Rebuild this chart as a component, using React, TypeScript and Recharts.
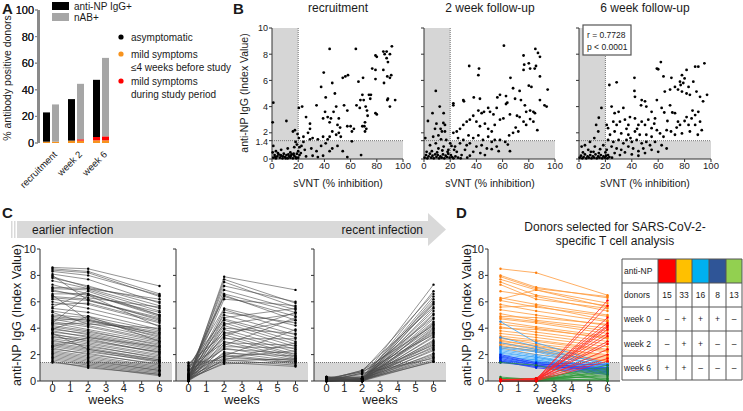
import React from "react";
import {
  BarChart,
  Bar,
  XAxis,
  YAxis,
  ScatterChart,
  Scatter,
  LineChart,
  Line,
  ReferenceArea,
  ReferenceLine,
} from "recharts";

const FONT = "'Liberation Sans', Arial, sans-serif";

// ---- panel A ----
const A_CATS = ["recruitment", "week 2", "week 6"];
const A_NP_ORANGE = [1.0, 1.8, 2.0];
const A_NP_RED = [0, 0, 2.5];
const A_NP_BLACK = [22, 31.2, 43];
const A_NAB_ORANGE = [1.0, 1.8, 2.0];
const A_NAB_RED = [0, 1.0, 3.0];
const A_NAB_GREY = [28, 41.7, 59];
const A_TICKS = [0, 20, 40, 60, 80, 100];

// ---- panel B (sVNT %, anti-NP index) ----
const B_RECRUIT: [number, number][] = [
  [0.5, 2.8], [1, 4.3], [11, 2.9], [16, 2.1], [17.5, 2.2], [20.5, 3.9], [23, 4.0], [26, 3.2],
  [29, 2.7], [29, 2.3], [34, 4.1], [37.5, 5.5], [39.5, 6.6], [44, 8.4], [41, 4.7], [40.5, 3.6],
  [42.5, 3.2], [39, 3.1], [45, 3.1], [44, 2.8], [46, 5.8], [48, 5.0], [49, 4.0], [47, 3.6],
  [51, 3.1], [50, 2.6], [52, 2.4], [54, 6.2], [55, 4.1], [56, 6.3], [58, 6.4], [57.5, 3.7],
  [57.5, 2.5], [60, 2.5], [61, 2.1], [64, 8.4], [64.5, 4.1], [62.5, 2.3], [66, 5.9], [67.5, 4.5],
  [67, 3.9], [69, 4.9], [69.5, 6.2], [70, 4.5], [69, 2.5], [70.5, 2.5], [72, 2.3], [71, 2.1],
  [72.5, 3.7], [71.5, 4.0], [74, 4.9], [75.5, 4.9], [76.5, 6.9], [79, 6.1], [79, 6.8], [79, 7.9],
  [80, 7.8], [85, 8.2], [86, 8.0], [87.5, 8.2], [87.5, 7.7], [88.5, 7.4], [90, 8.0], [91.5, 8.6],
  [94, 4.5], [85, 6.8], [85.5, 5.8], [88, 6.3], [90, 6.2], [91, 6.4], [88, 4.5], [90, 4.0],
  [88.5, 4.6], [79, 3.5], [80, 3.4], [75, 4.6], [73, 3.3], [71, 2.8], [27.5, 2.0], [24, 1.7],
  [29, 1.5], [31, 1.6], [35, 1.5], [39, 1.7], [42.5, 1.5], [44, 1.7], [46, 2.1], [49, 1.85],
  [51, 2.0], [52.5, 1.7], [22.5, 1.0], [25, 0.7], [30, 0.8], [34, 0.6], [37.5, 1.0], [41, 1.2],
  [44, 0.6], [46, 0.8], [50, 1.0], [54, 0.6], [57.5, 0.15], [61, 1.35], [68, 0.3], [26, 0.2],
  [31, 0.25], [35, 0.15], [39, 0.25], [22, 0.45], [24, 1.3], [1, 0.1], [2, 0.3], [3, 0.05],
  [4, 0.2], [5, 0.35], [6, 0.1], [7, 0.25], [8, 0.05], [9, 0.4], [10, 0.15], [11, 0.3],
  [12, 0.05], [13, 0.2], [14, 0.1], [15, 0.35], [16, 0.05], [17, 0.25], [18, 0.15], [19, 0.4],
  [20, 0.1], [21, 0.3], [0.5, 0.5], [2.5, 0.15], [4.5, 0.45], [6.5, 0.3], [8.5, 0.2], [10.5, 0.05],
  [12.5, 0.35], [14.5, 0.25], [16.5, 0.4], [18.5, 0.05], [3, 0.6], [7, 0.7], [12, 0.8], [17, 0.9],
  [19, 1.1], [1, 1.0], [14, 0.5], [20, 0.6], [21, 0.9], [18, 1.3], [20.5, 1.6], [19.5, 1.9],
];

const B_WEEK2: [number, number][] = [
  [61, 8.65], [85, 8.4], [87, 8.1], [88.5, 7.8], [76, 7.9], [80, 7.3], [76.5, 7.2], [85.5, 7.1],
  [84.5, 6.9], [81, 6.9], [76, 6.8], [34.5, 7.1], [42, 6.9], [41.5, 6.4], [9, 5.2], [12, 4.0],
  [6.5, 3.5], [3, 2.9], [9.5, 2.7], [15, 3.5], [14.8, 2.75], [16, 2.6], [8.4, 2.3], [12.7, 2.3],
  [13.7, 2.1], [11, 1.8], [16, 2.1], [7, 1.7], [22.4, 4.25], [22.4, 4.1], [30, 4.5], [30.5, 4.4],
  [38, 4.7], [42.7, 4.6], [45.8, 3.6], [49, 3.9], [50.4, 3.6], [53, 3.4], [55.5, 3.9], [58, 4.9],
  [56, 4.7], [62.6, 4.8], [63.6, 4.3], [62.6, 4.2], [68, 5.4], [69.5, 4.6], [73, 5.2], [74, 4.5],
  [77, 4.1], [78, 3.6], [81, 3.7], [83.5, 3.6], [84.7, 3.5], [88.5, 4.5], [92, 4.1], [93.6, 4.0],
  [94.4, 5.3], [88.5, 6.3], [82, 5.5], [80, 5.6], [66, 6.2], [41.5, 3.7], [44, 3.5], [37.6, 3.3],
  [35, 3.0], [32.6, 2.85], [40, 2.85], [46.5, 2.7], [42.7, 2.5], [30, 2.6], [27.5, 2.3], [25, 2.1],
  [22.4, 2.0], [49, 2.3], [51.7, 2.1], [54, 2.6], [58, 3.0], [60.6, 3.1], [65.6, 3.4], [71, 3.3],
  [73, 3.2], [76, 2.85], [78, 2.6], [81, 3.05], [83.5, 2.85], [86.5, 2.2], [72, 2.1], [68, 2.0],
  [65, 1.8], [70, 2.4], [26, 1.6], [30, 1.45], [34, 1.8], [37.6, 1.6], [41.5, 1.8], [45, 1.45],
  [49, 1.7], [51.7, 1.3], [54, 1.45], [58, 1.45], [62, 1.3], [64, 1.1], [27.5, 1.2], [32.6, 1.05],
  [35, 1.2], [40, 0.95], [44, 1.05], [48, 0.8], [51.7, 0.75], [55.5, 0.95], [23.7, 0.95], [31.3, 0.7],
  [37.6, 0.55], [43, 0.45], [46.5, 0.3], [25, 0.55], [28.7, 0.3], [35, 0.25], [57, 0.6], [65.6, 0.6],
  [21, 1.0], [23, 0.7], [1, 1.6], [9, 1.2], [13, 1.5], [17, 1.45], [20, 1.2], [4.6, 1.05],
  [11, 0.8], [15, 0.95], [18.6, 0.7], [0.5, 0.1], [1.5, 0.3], [2.5, 0.05], [3.5, 0.2], [4.5, 0.4],
  [5.5, 0.1], [6.5, 0.25], [7.5, 0.05], [8.5, 0.35], [9.5, 0.15], [10.5, 0.3], [11.5, 0.05], [12.5, 0.2],
  [13.5, 0.1], [14.5, 0.35], [15.5, 0.05], [16.5, 0.25], [17.5, 0.15], [18.5, 0.4], [19.5, 0.1], [20.5, 0.3],
  [21.5, 0.15], [22.5, 0.05], [2, 0.55], [6, 0.6], [10, 0.5], [14, 0.65], [18, 0.55], [24, 0.2],
  [26, 0.1], [28, 0.05], [33, 0.1],
];

const B_WEEK6: [number, number][] = [
  [90.4, 7.05], [88, 7.05], [62, 7.4], [59, 6.9], [60, 6.85], [42, 6.2], [64, 6.3], [70, 6.2],
  [78, 6.4], [81.5, 6.8], [80, 6.15], [76.5, 5.9], [77, 5.65], [79, 5.8], [83, 5.5], [72.7, 5.5],
  [75, 5.3], [78, 5.15], [81.5, 5.0], [84, 4.9], [86.6, 5.9], [89, 5.15], [91.7, 4.75], [69, 5.3],
  [65, 5.15], [95, 7.3], [23, 5.65], [28.5, 5.85], [17, 3.9], [15, 3.15], [13, 2.6], [14.6, 2.1],
  [24.7, 4.0], [27, 3.5], [30, 3.6], [33.6, 3.9], [42, 5.2], [42.4, 4.75], [47.5, 4.5], [50, 4.4],
  [47, 4.1], [51, 4.0], [55, 3.6], [57.6, 3.1], [59, 4.5], [62.6, 3.9], [64.6, 3.55], [69, 4.1],
  [70.7, 3.55], [72.7, 3.5], [75, 2.85], [76.5, 2.6], [81.5, 3.2], [83, 2.6], [85.3, 3.1], [88, 3.35],
  [90.4, 3.6], [91.7, 2.85], [88, 2.6], [93, 2.2], [90, 1.85], [21, 2.6], [22, 2.35], [26, 2.85],
  [28.5, 2.6], [31, 2.85], [34.8, 3.0], [37.4, 2.6], [38.6, 3.2], [42.4, 3.1], [45, 2.6], [47.5, 2.85],
  [50, 2.6], [52.5, 3.0], [55, 2.35], [59, 2.2], [61.4, 1.95], [64, 1.7], [66.4, 2.2], [69.7, 2.1],
  [72.7, 1.85], [78, 1.95], [84, 2.1], [23.5, 1.85], [27, 2.1], [32, 1.95], [37.4, 1.85], [42.4, 2.1],
  [46, 1.85], [51, 1.85], [55, 1.7], [22, 1.45], [26, 1.3], [30, 1.45], [33.6, 1.2], [36, 1.45],
  [40, 1.3], [43.7, 1.45], [47.5, 1.2], [51, 1.3], [53.8, 1.05], [57.6, 1.3], [62.6, 1.05], [24.7, 0.95],
  [28.5, 0.8], [32, 0.7], [37.4, 0.95], [41, 0.8], [45, 0.6], [48.7, 0.8], [27, 0.45], [31, 0.3],
  [34.8, 0.5], [40, 0.35], [45, 0.25], [50, 0.45], [55, 0.7], [60, 0.55], [66.4, 0.8], [21, 0.7],
  [22, 0.3], [11.6, 1.6], [8.3, 1.3], [4.5, 1.05], [12, 0.95], [16, 0.75], [18.4, 1.05], [7, 0.7],
  [11, 0.55], [2, 0.95], [0.5, 0.1], [1.5, 0.25], [2.5, 0.05], [3.5, 0.15], [4.5, 0.35], [5.5, 0.05],
  [6.5, 0.2], [7.5, 0.1], [8.5, 0.3], [9.5, 0.05], [10.5, 0.2], [11.5, 0.1], [12.5, 0.35], [13.5, 0.05],
  [14.5, 0.2], [15.5, 0.1], [16.5, 0.3], [17.5, 0.05], [18.5, 0.2], [19.5, 0.1], [20.5, 0.25], [21.5, 0.05],
  [23, 0.15], [25, 0.1], [3, 0.5], [9, 0.55], [15, 0.45], [20, 0.5], [36, 2.3], [39, 1.6],
  [44, 2.3], [57, 2.7], [67, 2.9], [74, 2.4], [80, 2.9], [86, 3.7], [94, 4.4], [97, 4.9],
];

const B_TICKS_X = [0, 20, 40, 60, 80, 100];
const B_TICKS_Y = [0, 1.4, 2, 4, 6, 8, 10];

// ---- panel C: anti-NP at weeks 0, 2, 6 ----
const WEEKS = [0, 2, 6];
const C_EARLIER: number[][] = [
  [8.6, 8.5, 7.2], [8.5, 8.3, 6.6], [8.4, 8.2, 6.4], [8.3, 8.0, 6.5], [8.1, 7.7, 5.9], [7.9, 7.1, 6.0],
  [7.8, 7.2, 5.7], [7.6, 7.0, 5.5], [7.3, 6.6, 5.0], [7.0, 6.9, 5.3], [6.8, 6.5, 5.2], [6.6, 6.6, 4.9],
  [6.4, 6.2, 4.6], [6.3, 6.1, 4.8], [6.2, 5.8, 4.4], [6.0, 5.5, 4.2], [5.8, 5.9, 4.5], [5.5, 5.2, 3.9],
  [5.3, 4.9, 3.8], [5.0, 4.8, 3.5], [4.9, 4.6, 3.4], [4.8, 4.5, 3.6], [4.7, 4.2, 3.1], [4.6, 4.7, 3.3],
  [4.5, 4.1, 3.0], [4.4, 3.9, 2.9], [4.3, 4.4, 3.2], [4.2, 3.8, 2.7], [4.1, 3.7, 2.8], [4.0, 3.5, 2.5],
  [3.9, 3.6, 2.6], [3.8, 3.3, 2.3], [3.7, 3.4, 2.4], [3.6, 3.0, 2.2], [3.5, 3.2, 2.1], [3.4, 2.9, 2.0],
  [3.3, 3.1, 2.2], [3.2, 2.8, 1.9], [3.1, 2.6, 1.8], [3.0, 2.7, 1.7], [2.9, 2.5, 1.6], [2.8, 2.4, 1.5],
  [2.7, 2.3, 1.4], [2.6, 2.2, 1.5], [2.5, 2.0, 1.3], [2.4, 2.1, 1.2], [2.3, 1.9, 1.1], [2.2, 1.8, 1.0],
  [2.1, 1.7, 0.9], [2.0, 1.6, 0.8], [1.9, 1.5, 0.8], [1.8, 1.4, 0.7], [1.7, 1.3, 0.6], [1.6, 1.2, 0.5],
  [1.5, 1.0, 0.5], [1.4, 1.1, 0.4], [6.9, 6.3, 5.6], [5.6, 6.8, 5.0], [4.4, 6.5, 4.1], [3.9, 4.9, 3.0],
  [7.1, 7.0, 6.2], [5.2, 4.3, 4.0], [2.6, 3.3, 2.6], [3.6, 2.4, 1.6], [6.5, 4.6, 3.7], [8.0, 6.1, 4.7],
];
const C_MIDDLE: number[][] = [
  [0.1, 7.9, 6.9], [0.2, 7.7, 5.9], [0.0, 7.5, 5.6], [0.3, 7.2, 6.0], [0.1, 6.9, 5.4], [0.5, 6.6, 5.2],
  [0.2, 6.5, 4.6], [0.8, 6.4, 4.9], [0.1, 6.2, 5.7], [1.0, 5.5, 4.2], [0.3, 5.4, 3.8], [0.0, 5.2, 4.4],
  [0.6, 5.0, 3.5], [0.2, 4.8, 5.5], [1.2, 4.7, 3.3], [0.4, 4.6, 3.0], [0.1, 4.4, 2.8], [0.9, 4.3, 5.1],
  [0.2, 4.2, 2.6], [0.0, 4.0, 3.6], [0.7, 3.9, 2.4], [0.3, 3.7, 2.2], [1.3, 3.6, 4.6], [0.1, 3.5, 2.0],
  [0.5, 3.3, 1.9], [0.2, 3.2, 3.2], [0.0, 3.0, 1.8], [1.1, 2.9, 2.7], [0.4, 2.8, 1.7], [0.1, 2.6, 2.5],
  [0.2, 2.5, 1.6], [0.8, 2.4, 2.1], [0.0, 2.2, 1.5], [0.3, 2.1, 1.9], [0.1, 2.0, 1.4], [0.6, 1.9, 1.3],
  [0.2, 1.8, 2.3], [0.0, 1.7, 1.6], [1.4, 1.6, 1.2], [0.4, 1.5, 1.7], [0.1, 1.4, 1.1], [0.2, 1.3, 1.5],
  [0.9, 1.9, 3.9], [0.3, 2.7, 4.8], [0.1, 1.6, 2.9], [0.5, 3.4, 5.2],
];
const C_RECENT: number[][] = [
  [0.3, 0.2, 7.3], [0.1, 0.1, 6.8], [0.2, 0.7, 6.6], [0.0, 0.1, 6.4], [0.1, 0.0, 6.2], [0.2, 0.3, 6.0],
  [0.0, 0.1, 5.8], [0.1, 0.8, 5.6], [0.3, 0.0, 5.5], [0.0, 0.2, 5.3], [0.1, 0.1, 5.1], [0.2, 0.0, 5.0],
  [0.0, 0.6, 4.8], [0.1, 0.1, 4.7], [0.2, 0.2, 4.5], [0.0, 0.0, 4.4], [0.1, 0.1, 4.3], [0.3, 0.3, 4.1],
  [0.0, 0.0, 4.0], [0.1, 0.1, 3.9], [0.2, 0.0, 3.8], [0.0, 0.2, 3.7], [0.1, 0.7, 3.5], [0.0, 0.0, 3.4],
  [0.2, 0.1, 3.3], [0.1, 0.0, 3.1], [0.0, 0.2, 3.0], [0.1, 0.1, 2.9], [0.3, 0.0, 2.8], [0.0, 0.1, 2.6],
  [0.1, 0.3, 2.5], [0.2, 0.0, 2.4], [0.0, 0.1, 2.3], [0.1, 0.0, 2.1], [0.0, 0.2, 2.0], [0.2, 0.1, 1.9],
  [0.1, 0.0, 1.8], [0.0, 0.6, 1.7], [0.1, 0.1, 1.6], [0.2, 0.0, 1.5], [0.0, 0.1, 1.45], [0.1, 0.8, 4.2],
  [0.0, 0.0, 5.9], [0.2, 0.1, 3.6], [0.1, 0.5, 2.7],
];

// ---- panel D: selected donors ----
const D_ORANGE: number[][] = [
  [8.5, 8.2, 6.5], [8.0, 7.1, 6.3], [7.9, 7.0, 6.4], [7.7, 6.9, 5.9], [7.5, 6.5, 5.7], [7.3, 6.2, 5.5],
  [6.8, 6.4, 5.3], [6.3, 5.8, 5.0], [6.2, 6.9, 5.6], [6.1, 5.6, 4.9], [5.8, 5.3, 4.5], [5.6, 5.7, 4.6],
  [5.4, 5.0, 4.2], [5.1, 4.6, 4.0], [4.9, 4.8, 4.3], [4.8, 4.5, 3.8], [4.7, 4.4, 3.6], [4.5, 4.1, 3.4],
  [4.3, 4.0, 3.2], [4.1, 3.7, 3.0], [4.0, 3.9, 3.3], [3.8, 3.5, 2.8], [3.6, 3.3, 2.6], [3.4, 3.1, 2.4],
  [3.3, 2.8, 2.2], [3.2, 3.0, 2.3], [3.1, 2.6, 2.0], [3.0, 2.7, 1.9], [2.9, 2.5, 1.8], [2.8, 2.4, 1.7],
  [2.7, 2.2, 1.6], [2.6, 2.3, 1.5], [2.5, 2.0, 1.5],
];
const D_LIGHTBLUE: number[][] = [
  [4.5, 2.9, 1.3], [3.3, 2.6, 1.2], [2.9, 2.4, 1.3], [2.6, 2.3, 1.1], [2.5, 2.2, 1.0], [2.4, 2.0, 1.2],
  [2.3, 1.9, 0.9], [2.2, 1.8, 1.0], [2.1, 1.8, 0.8], [2.0, 1.7, 0.9], [1.9, 1.6, 0.7], [1.8, 1.6, 0.8],
  [1.7, 1.5, 0.6], [1.6, 1.5, 0.7], [1.5, 1.4, 0.5], [1.45, 1.4, 0.6],
];
const D_DARKBLUE: number[][] = [
  [2.0, 1.4, 1.2], [1.9, 1.3, 1.0], [1.8, 1.3, 0.9], [1.7, 1.2, 0.8], [1.6, 1.2, 0.7], [1.5, 1.1, 0.6],
  [1.5, 1.0, 0.5], [1.4, 1.1, 0.9],
];
const D_GREEN: number[][] = [
  [0.2, 0.1, 1.2], [0.1, 0.2, 1.0], [0.3, 0.1, 0.9], [0.1, 0.0, 0.8], [0.0, 0.1, 0.7], [0.2, 0.1, 0.6],
  [0.1, 0.0, 0.5], [0.0, 0.1, 0.4], [0.1, 0.2, 0.3], [0.0, 0.0, 0.2], [0.1, 0.1, 0.1], [0.0, 0.0, 0.05],
  [1.4, 1.2, 0.0],
];
const D_RED: number[][] = [
  [0.1, 0.1, 6.1], [0.0, 0.1, 5.7], [0.1, 0.0, 4.8], [0.0, 0.2, 4.4], [0.1, 0.1, 4.2], [0.0, 0.0, 4.1],
  [0.1, 0.1, 3.9], [0.0, 0.2, 3.6], [0.1, 0.0, 3.4], [0.0, 0.1, 3.0], [0.1, 0.1, 2.8], [0.0, 0.0, 2.4],
  [0.1, 0.2, 2.0], [0.0, 0.1, 1.7], [0.1, 0.0, 1.5],
];

// table in D
const T_ROWS = ["anti-NP", "donors", "week 0", "week 2", "week 6"];
const T_COLORS = ["#ff0000", "#ffc000", "#00b0f0", "#2f5597", "#92d050"];
const T_DONORS = ["15", "33", "16", "8", "13"];
const T_WEEK0 = ["–", "+", "+", "+", "–"];
const T_WEEK2 = ["–", "+", "+", "–", "–"];
const T_WEEK6 = ["+", "+", "–", "–", "–"];

const GREY = "#d6d6d6";
const AX = "#333";
const AXA = "#8a8a8a";
const tickStyle = { fontSize: 9.5, fill: "#222", fontFamily: FONT };

// panel A plot box (matches the bar chart margins below)
const A_TOP = 10;
const A_BOTTOM = 143;

const toPts = (arr: [number, number][]) => arr.map(([x, y]) => ({ x, y }));
const toSeries = (row: number[]) => WEEKS.map((w, i) => ({ w, v: row[i] }));

const AngledTick = (props: any) => {
  const { x, y, payload } = props;
  const tx = x + 5;
  const ty = y + 2;
  return (
    <text
      x={tx}
      y={ty}
      transform={`rotate(-45 ${tx} ${ty})`}
      textAnchor="end"
      fontSize={9.5}
      fontFamily={FONT}
      fill="#222"
      dy={3}
    >
      {payload.value}
    </text>
  );
};

const BYTick = (props: any) => {
  const { x, y, payload, show } = props;
  if (!show) return null;
  const v = payload.value;
  const nudge = v === 1.4 ? 1.5 : v === 2 ? -1.5 : 0;
  return (
    <text x={x} y={y + nudge} dy={3.3} textAnchor="end" fontSize={9} fontFamily={FONT} fill="#222">
      {v}
    </text>
  );
};

const dotShape = (p: any) => <circle cx={p.cx} cy={p.cy} r={1.4} fill="#000" />;

function PanelA() {
  const data = A_CATS.map((c, i) => ({
    name: c,
    npO: A_NP_ORANGE[i],
    npR: A_NP_RED[i],
    npB: A_NP_BLACK[i],
    nabO: A_NAB_ORANGE[i],
    nabR: A_NAB_RED[i],
    nabG: A_NAB_GREY[i],
  }));
  return (
    <div style={{ position: "absolute", left: 0, top: 0 }}>
      <BarChart
        width={118}
        height={192}
        data={data}
        margin={{ top: A_TOP, right: 5, left: 0, bottom: 0 }}
        barSize={7}
        barGap={2}
      >
        <XAxis dataKey="name" axisLine={false} tickLine={false} height={192 - A_BOTTOM} interval={0} tick={<AngledTick />} />
        <YAxis
          type="number"
          domain={[0, 100]}
          ticks={A_TICKS}
          interval={0}
          width={38}
          axisLine={{ stroke: AXA, strokeWidth: 2 }}
          tickLine={{ stroke: AXA }}
          tickSize={3}
          tickMargin={1}
          tick={{ ...tickStyle, fontSize: 11 }}
        />
        <Bar dataKey="npO" stackId="np" fill="#f7931e" isAnimationActive={false} />
        <Bar dataKey="npR" stackId="np" fill="#ff0000" isAnimationActive={false} />
        <Bar dataKey="npB" stackId="np" fill="#000000" isAnimationActive={false} />
        <Bar dataKey="nabO" stackId="nab" fill="#f7931e" isAnimationActive={false} />
        <Bar dataKey="nabR" stackId="nab" fill="#ff0000" isAnimationActive={false} />
        <Bar dataKey="nabG" stackId="nab" fill="#a6a6a6" isAnimationActive={false} />
      </BarChart>
    </div>
  );
}

function ScatterPanel({ left, width, yWidth, pts, labels }: any) {
  return (
    <div style={{ position: "absolute", left, top: 0 }}>
      <ScatterChart width={width} height={195} margin={{ top: 28, right: 12, left: 0, bottom: 0 }}>
        <XAxis
          type="number"
          dataKey="x"
          domain={[0, 100]}
          ticks={B_TICKS_X}
          interval={0}
          height={36}
          axisLine={{ stroke: AX }}
          tickLine={{ stroke: AX }}
          tickSize={3}
          tickMargin={0}
          tick={tickStyle}
        />
        <YAxis
          type="number"
          dataKey="y"
          domain={[0, 10]}
          ticks={B_TICKS_Y}
          interval={0}
          width={yWidth}
          axisLine={{ stroke: AX }}
          tickLine={{ stroke: AX }}
          tickSize={3}
          tickMargin={1}
          tick={<BYTick show={labels} />}
        />
        <ReferenceArea x1={0} x2={20} y1={0} y2={10} fill={GREY} fillOpacity={1} stroke="none" />
        <ReferenceArea x1={0} x2={100} y1={0} y2={1.4} fill={GREY} fillOpacity={1} stroke="none" />
        <ReferenceLine x={20} stroke="#555" strokeDasharray="1 1" strokeWidth={0.8} />
        <ReferenceLine y={1.4} stroke="#555" strokeDasharray="1 1" strokeWidth={0.8} />
        <Scatter data={toPts(pts)} shape={dotShape} isAnimationActive={false} />
      </ScatterChart>
    </div>
  );
}

function LinePanel({ left, yWidth, width, groups, labels }: any) {
  return (
    <div style={{ position: "absolute", left, top: 240 }}>
      <LineChart width={width} height={171} margin={{ top: 9, right: 4, left: 0, bottom: 0 }}>
        <XAxis
          type="number"
          dataKey="w"
          domain={[-0.7, 6.7]}
          ticks={[0, 1, 2, 3, 4, 5, 6]}
          interval={0}
          allowDataOverflow
          height={30}
          axisLine={{ stroke: AX }}
          tickLine={{ stroke: AX }}
          tickSize={3}
          tickMargin={0}
          tick={{ ...tickStyle, fontSize: 11 }}
        />
        <YAxis
          type="number"
          domain={[0, 10]}
          ticks={[0, 2, 4, 6, 8, 10]}
          interval={0}
          width={yWidth}
          axisLine={{ stroke: AX }}
          tickLine={{ stroke: AX }}
          tickSize={3}
          tickMargin={1}
          tick={{ ...tickStyle, fontSize: 11 }}
          tickFormatter={(v: number) => (labels ? String(v) : "")}
        />
        <ReferenceArea y1={0} y2={1.4} fill={GREY} fillOpacity={1} stroke="none" />
        <ReferenceLine y={1.4} stroke="#555" strokeDasharray="1 1" strokeWidth={0.8} />
        {groups.map((g: any, gi: number) =>
          g.rows.map((row: number[], i: number) => (
            <Line
              key={`${gi}-${i}`}
              data={toSeries(row)}
              dataKey="v"
              stroke={g.stroke}
              strokeWidth={g.width}
              dot={{ r: 1.2, fill: g.dot, stroke: "none" }}
              isAnimationActive={false}
            />
          ))
        )}
      </LineChart>
    </div>
  );
}

function Overlay() {
  const ty = [259, 283, 307, 331, 356, 380];
  const tx = [622, 658, 676, 692, 709, 726, 742];
  const rowsVals = [null, T_DONORS, T_WEEK0, T_WEEK2, T_WEEK6];
  const t = { fontFamily: FONT, fill: "#1a1a1a" };
  // percent axis of panel A, same 0-100 range as the bar chart's plot box
  const aY = (v: number) => A_BOTTOM - (v / 100) * (A_BOTTOM - A_TOP);
  return (
    <svg width={743} height={411} style={{ position: "absolute", left: 0, top: 0, pointerEvents: "none" }}>
      {/* panel letters */}
      <text x={2} y={14} fontSize={15} fontWeight="bold" {...t}>A</text>
      <text x={233} y={14} fontSize={15} fontWeight="bold" {...t}>B</text>
      <text x={2} y={218} fontSize={15} fontWeight="bold" {...t}>C</text>
      <text x={456} y={218} fontSize={15} fontWeight="bold" {...t}>D</text>

      {/* A percent axis */}
      <line x1={39} x2={39} y1={aY(100)} y2={aY(0)} stroke={AXA} strokeWidth={2} />
      {A_TICKS.map((v) => (
        <g key={`at${v}`}>
          <line x1={35} x2={38} y1={aY(v)} y2={aY(v)} stroke={AXA} />
          <text x={34} y={aY(v) + 4} textAnchor="end" fontSize={11} {...t}>{v}</text>
        </g>
      ))}

      {/* A legend */}
      <rect x={52} y={2} width={17} height={8} fill="#000" />
      <rect x={52} y={13} width={17} height={8} fill="#a6a6a6" />
      <text x={74} y={10} fontSize={10} {...t}>anti-NP IgG+</text>
      <text x={74} y={21} fontSize={10} {...t}>nAB+</text>
      <circle cx={121} cy={37} r={2.6} fill="#000" />
      <text x={131} y={40.5} fontSize={10} {...t}>asymptomatic</text>
      <circle cx={121} cy={54} r={2.6} fill="#f7931e" />
      <text x={131} y={57.5} fontSize={10} {...t}>mild symptoms</text>
      <text x={131} y={70.5} fontSize={10} {...t}>≤4 weeks before study</text>
      <circle cx={121} cy={81} r={2.6} fill="#ff0000" />
      <text x={131} y={85} fontSize={10} {...t}>mild symptoms</text>
      <text x={131} y={98} fontSize={10} {...t}>during study period</text>
      <text transform="translate(11,78) rotate(-90)" textAnchor="middle" fontSize={10.5} {...t}>
        % antibody positive donors
      </text>

      {/* B titles and labels */}
      <text x={338} y={12} textAnchor="middle" fontSize={12} {...t}>recruitment</text>
      <text x={490} y={12} textAnchor="middle" fontSize={12} {...t}>2 week follow-up</text>
      <text x={645} y={12} textAnchor="middle" fontSize={12} {...t}>6 week follow-up</text>
      <text transform="translate(248,93) rotate(-90)" textAnchor="middle" fontSize={10.5} {...t}>
        anti-NP IgG (Index Value)
      </text>
      {[338, 490, 645].map((cx) => (
        <text key={cx} x={cx} y={187} textAnchor="middle" fontSize={10.5} {...t}>sVNT (% inhibition)</text>
      ))}
      <rect x={583} y={25} width={48} height={30} fill="#fff" stroke="#555" strokeWidth={1.2} />
      <text x={587} y={38} fontSize={8.5} {...t}>r = 0.7728</text>
      <text x={587} y={50} fontSize={8.5} {...t}>p &lt; 0.0001</text>

      {/* C banner */}
      <rect x={11} y={221} width={1.5} height={17} fill="#d9d9d9" />
      <rect x={14} y={221} width={1.5} height={17} fill="#d9d9d9" />
      <polygon points="17,221 428,221 428,213 446,229.5 428,246 428,238 17,238" fill="#d9d9d9" />
      <text x={32} y={233.5} fontSize={12} {...t}>earlier infection</text>
      <text x={423} y={233.5} textAnchor="end" fontSize={12} {...t}>recent infection</text>
      <text transform="translate(20.5,315) rotate(-90)" textAnchor="middle" fontSize={12.5} {...t}>
        anti-NP IgG (Index Value)
      </text>
      {[106, 242, 380, 554].map((cx) => (
        <text key={cx} x={cx} y={404} textAnchor="middle" fontSize={12.5} {...t}>weeks</text>
      ))}

      {/* D title and label */}
      <text x={615} y={231} textAnchor="middle" fontSize={12} {...t}>Donors selected for SARS-CoV-2-</text>
      <text x={615} y={245} textAnchor="middle" fontSize={12} {...t}>specific T cell analysis</text>
      <text transform="translate(470.5,315) rotate(-90)" textAnchor="middle" fontSize={12.5} {...t}>
        anti-NP IgG (Index Value)
      </text>

      {/* D table */}
      {T_COLORS.map((c, i) => (
        <rect key={c} x={tx[i + 1]} y={ty[0]} width={tx[i + 2] - tx[i + 1]} height={ty[1] - ty[0]} fill={c} />
      ))}
      {T_ROWS.map((r, ri) => (
        <text key={r} x={tx[0] + 2} y={(ty[ri] + ty[ri + 1]) / 2 + 3} fontSize={8.5} {...t}>{r}</text>
      ))}
      {rowsVals.map((vals, ri) =>
        vals
          ? vals.map((v, ci) => (
              <text
                key={`${ri}-${ci}`}
                x={(tx[ci + 1] + tx[ci + 2]) / 2}
                y={(ty[ri] + ty[ri + 1]) / 2 + 3}
                textAnchor="middle"
                fontSize={8.5}
                {...t}
              >
                {v}
              </text>
            ))
          : null
      )}
      {ty.map((y) => (
        <line key={`h${y}`} x1={tx[0]} x2={tx[6]} y1={y} y2={y} stroke="#555" strokeWidth={1} />
      ))}
      {tx.map((x) => (
        <line key={`v${x}`} x1={x} x2={x} y1={ty[0]} y2={ty[5]} stroke="#555" strokeWidth={1} />
      ))}
    </svg>
  );
}

export default function App() {
  const black = { stroke: "#4a4a4a", dot: "#000", width: 0.6 };
  return (
    <div style={{ position: "absolute", left: 0, top: 0, width: 743, height: 411, background: "#fff", fontFamily: FONT }}>
      <PanelA />
      <ScatterPanel left={230} width={185} yWidth={42} pts={B_RECRUIT} labels />
      <ScatterPanel left={414} width={153} yWidth={10} pts={B_WEEK2} labels={false} />
      <ScatterPanel left={569} width={154} yWidth={10} pts={B_WEEK6} labels={false} />
      <LinePanel left={0} width={176} yWidth={40} labels groups={[{ rows: C_EARLIER, ...black }]} />
      <LinePanel left={170} width={142} yWidth={6} labels={false} groups={[{ rows: C_MIDDLE, ...black }]} />
      <LinePanel left={308} width={142} yWidth={6} labels={false} groups={[{ rows: C_RECENT, ...black }]} />
      <LinePanel
        left={450}
        width={174}
        yWidth={38}
        labels
        groups={[
          { rows: D_ORANGE, stroke: "#ff9a3c", dot: "#ff7f0e", width: 0.8 },
          { rows: D_LIGHTBLUE, stroke: "#3ba3f5", dot: "#1e90ff", width: 0.8 },
          { rows: D_DARKBLUE, stroke: "#1f3cff", dot: "#0020e0", width: 0.8 },
          { rows: D_GREEN, stroke: "#2f9a3a", dot: "#1e7d28", width: 0.8 },
          { rows: D_RED, stroke: "#ff2a2a", dot: "#ff0000", width: 0.8 },
        ]}
      />
      <Overlay />
    </div>
  );
}
